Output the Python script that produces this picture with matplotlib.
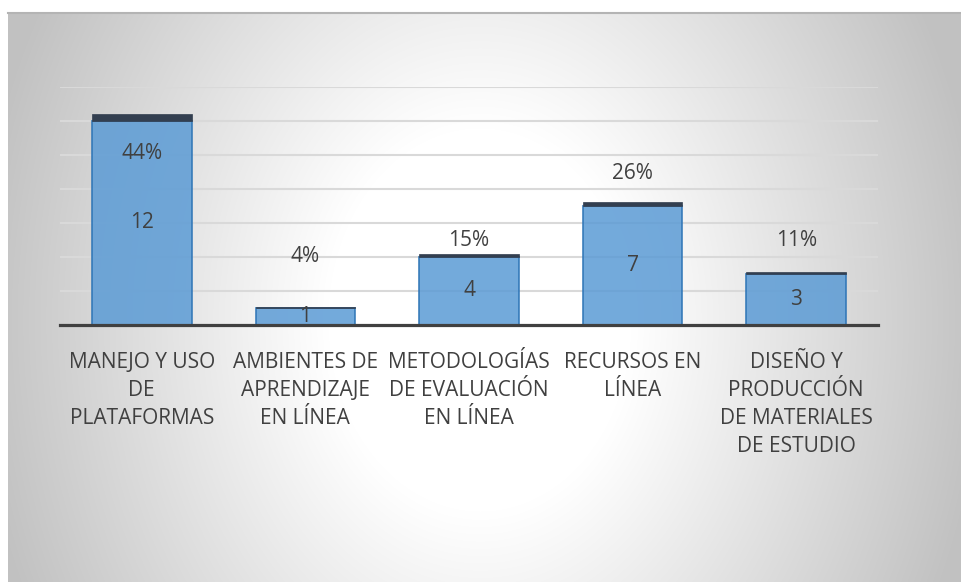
import numpy as np
import matplotlib
matplotlib.use("Agg")
import matplotlib.pyplot as plt

# Data
categories = [
    "MANEJO Y USO\nDE\nPLATAFORMAS",
    "AMBIENTES DE\nAPRENDIZAJE\nEN LÍNEA",
    "METODOLOGÍAS\nDE EVALUACIÓN\nEN LÍNEA",
    "RECURSOS EN\nLÍNEA",
    "DISEÑO Y\nPRODUCCIÓN\nDE MATERIALES\nDE ESTUDIO",
]
counts = [12, 1, 4, 7, 3]
percents = [44, 4, 15, 26, 11]

# Vertical placement of the percentage labels (data units)
pct_label_y = [10.1, 4.0, 5.0, 8.9, 5.0]

W, H, DPI = 961, 582, 100
TEXT = "#404040"
FONT = "Open Sans"

fig = plt.figure(figsize=(W / DPI, H / DPI), dpi=DPI)
fig.patch.set_facecolor("white")

# Radial grey-to-white background panel
x0, y0 = 8, 13
bg = fig.add_axes([x0 / W, 0, 1 - x0 / W, 1 - y0 / H], zorder=-5)
yy, xx = np.mgrid[y0:H, x0:W].astype(float)
cx, cy, rx, ry = 480.0, 320.0, 475.0, 600.0
d = np.sqrt(((xx - cx) / rx) ** 2 + ((yy - cy) / ry) ** 2)
d0 = 0.32
t = np.clip((d - d0) / (1 - d0), 0, 1.1)
val = 1.0 - (1.0 - 0.78) * t
img = np.dstack([val, val, val])
bg.imshow(img, aspect="auto", extent=[0, 1, 0, 1], interpolation="bilinear")
bg.set_axis_off()
fig.add_artist(plt.Line2D([x0 / W, 1], [1 - y0 / H, 1 - y0 / H],
                          transform=fig.transFigure, color="#b4b4b4", lw=1.5))

# Main plot area
left, right, bottom, top = 60, 878, 325, 87
ax = fig.add_axes([left / W, 1 - bottom / H, (right - left) / W, (bottom - top) / H])
ax.set_facecolor("none")

x = np.arange(len(categories))
ax.set_xlim(-0.5, len(categories) - 0.5)
ax.set_ylim(0, 14)

ax.set_yticks(np.arange(2, 15, 2))
ax.yaxis.grid(True, color="#d9d9d9", lw=1.5)
ax.set_axisbelow(True)
ax.tick_params(axis="y", left=False, labelleft=False)

bw = 0.61
ax.bar(x, counts, width=bw, color="#5b9bd5", alpha=0.85, edgecolor="#2e75b6",
       linewidth=1.3, zorder=2)
caps = [p / 100 for p in percents]
ax.bar(x, caps, width=bw, bottom=counts, color="#333f50", edgecolor="#333f50",
       linewidth=0.5, zorder=2)

for xi, c, p, py in zip(x, counts, percents, pct_label_y):
    ax.text(xi, c / 2, f"{c}", ha="center", va="center", fontsize=15,
            color=TEXT, family=FONT, zorder=4)
    ax.text(xi, py, f"{p}%", ha="center", va="center", fontsize=15,
            color=TEXT, family=FONT, zorder=4)

for s in ["left", "right", "top"]:
    ax.spines[s].set_visible(False)
ax.spines["bottom"].set_color("#404040")
ax.spines["bottom"].set_linewidth(2.3)
ax.spines["bottom"].set_zorder(5)

ax.set_xticks(x)
ax.set_xticklabels(categories, fontsize=15, color=TEXT, family=FONT,
                   linespacing=1.44)
ax.tick_params(axis="x", length=0, pad=19.5)

fig.savefig("out.png", dpi=DPI)
